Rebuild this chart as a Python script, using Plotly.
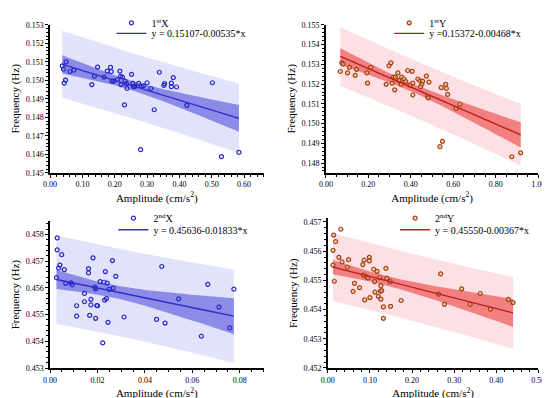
import numpy as np
import plotly.graph_objects as go

# ---------------- data ----------------
# Panel 1: 1st mode, X direction
x1 = [0.0377, 0.0417, 0.0497, 0.0477, 0.0437, 0.0616, 0.0735, 0.129, 0.137, 0.147,
      0.167, 0.177, 0.187, 0.189, 0.191, 0.197, 0.209, 0.216, 0.218, 0.220,
      0.224, 0.230, 0.232, 0.236, 0.238, 0.252, 0.256, 0.258, 0.262, 0.274,
      0.280, 0.282, 0.288, 0.300, 0.312, 0.322, 0.338, 0.352, 0.354, 0.375,
      0.375, 0.381, 0.391, 0.423, 0.502, 0.530, 0.584]
y1 = [0.15078, 0.15060, 0.15100, 0.15001, 0.14985, 0.15048, 0.15055, 0.14977, 0.15022, 0.15072,
      0.15017, 0.15050, 0.15070, 0.15047, 0.14996, 0.14996, 0.15004, 0.15050, 0.15022, 0.14977,
      0.15018, 0.14867, 0.14996, 0.14982, 0.14956, 0.15032, 0.14984, 0.14966, 0.14966, 0.14984,
      0.14625, 0.14968, 0.14970, 0.14987, 0.14956, 0.14841, 0.15044, 0.14973, 0.14982, 0.14985,
      0.14966, 0.15015, 0.14964, 0.14865, 0.14987, 0.14587, 0.14610]

# Panel 2: 1st mode, Y direction
x2 = [0.068, 0.0745, 0.0806, 0.102, 0.111, 0.138, 0.144, 0.193, 0.196, 0.211,
      0.284, 0.297, 0.306, 0.312, 0.318, 0.324, 0.327, 0.339, 0.345, 0.354,
      0.357, 0.367, 0.376, 0.385, 0.397, 0.406, 0.409, 0.409, 0.433, 0.443,
      0.446, 0.452, 0.455, 0.473, 0.479, 0.482, 0.485, 0.537, 0.543, 0.549,
      0.564, 0.567, 0.573, 0.613, 0.631, 0.875, 0.917]
y2 = [0.15264, 0.15308, 0.15301, 0.15257, 0.15285, 0.15244, 0.15275, 0.15257, 0.15205, 0.15285,
      0.15199, 0.15293, 0.15308, 0.15205, 0.15236, 0.15171, 0.15236, 0.15257, 0.15218, 0.15200,
      0.15236, 0.15226, 0.15213, 0.15269, 0.15194, 0.15265, 0.15205, 0.15145, 0.15226, 0.15217,
      0.15187, 0.15200, 0.15215, 0.15241, 0.15138, 0.15130, 0.15210, 0.14883, 0.15182, 0.14910,
      0.15199, 0.15178, 0.15148, 0.15077, 0.15098, 0.14832, 0.14852]

# Panel 3: 2nd mode, X direction
x3 = [0.0027, 0.0030, 0.0030, 0.0036, 0.0041, 0.0049, 0.0060, 0.0066, 0.0088, 0.0093,
      0.0112, 0.0112, 0.0145, 0.0145, 0.0162, 0.0162, 0.0167, 0.0172, 0.0172, 0.0181,
      0.0189, 0.0192, 0.0192, 0.0197, 0.0200, 0.0211, 0.0222, 0.0227, 0.0230, 0.0233,
      0.0238, 0.0241, 0.0244, 0.0249, 0.0263, 0.0266, 0.0277, 0.0312, 0.0449, 0.0471,
      0.0485, 0.0542, 0.0638, 0.0665, 0.0712, 0.0758, 0.0775]
y3 = [0.45638, 0.45787, 0.45742, 0.45674, 0.45685, 0.45724, 0.45668, 0.45617, 0.45619, 0.45611,
      0.45533, 0.45494, 0.45579, 0.45548, 0.45672, 0.45656, 0.45497, 0.45557, 0.45536, 0.45712,
      0.45603, 0.45596, 0.45486, 0.45534, 0.45533, 0.45623, 0.45394, 0.45621, 0.45554, 0.45661,
      0.45560, 0.45618, 0.45471, 0.45594, 0.45702, 0.45599, 0.45643, 0.45491, 0.45482, 0.45680,
      0.45468, 0.45559, 0.45419, 0.45613, 0.45528, 0.45450, 0.45595]

# Panel 4: 2nd mode, Y direction
x4 = [0.0123, 0.0123, 0.0138, 0.0154, 0.0185, 0.0308, 0.0262, 0.0338, 0.0462, 0.0492,
      0.060, 0.0631, 0.0754, 0.0831, 0.0846, 0.0862, 0.0877, 0.0923, 0.0954, 0.0985,
      0.0985, 0.100, 0.109, 0.111, 0.112, 0.117, 0.120, 0.123, 0.125, 0.126,
      0.126, 0.128, 0.132, 0.132, 0.138, 0.140, 0.148, 0.149, 0.174, 0.263,
      0.268, 0.277, 0.318, 0.338, 0.362, 0.386, 0.429, 0.440]
y4 = [0.45552, 0.45603, 0.45655, 0.45497, 0.45633, 0.45675, 0.45579, 0.45563, 0.45545, 0.45571,
      0.45462, 0.45490, 0.45475, 0.45554, 0.45518, 0.45569, 0.45433, 0.45512, 0.45508, 0.45579,
      0.45567, 0.45441, 0.45538, 0.45496, 0.45460, 0.45531, 0.45445, 0.45509, 0.45463, 0.45482,
      0.45436, 0.45465, 0.45409, 0.45370, 0.45541, 0.45507, 0.45496, 0.45411, 0.45431, 0.45453,
      0.45522, 0.45418, 0.45471, 0.45418, 0.45455, 0.45401, 0.45435, 0.45424]

# fitted lines (from legends)
intercepts = [0.15107, 0.15372, 0.45636, 0.45550]
slopes = [-0.00535, -0.00468, -0.01833, -0.00367]
fit_labels = ["y = 0.15107-0.00535*x", "y =0.15372-0.00468*x",
              "y = 0.45636-0.01833*x", "y = 0.45550-0.00367*x"]
series_names = ["1<sup>st</sup>X", "1<sup>st</sup>Y", "2<sup>nd</sup>X", "2<sup>nd</sup>Y"]

FONT = "Liberation Serif"

blue = dict(marker="#2626c8", line="#2e2ec8", light="#e2e2fb", dark="#8c8ce8",
            fill="rgba(255,255,255,0)")
red = dict(marker="#a0401a", line="#b81e1e", light="#fde0e4", dark="#f28080",
           fill="rgba(255,190,110,0.55)")
styles = [blue, red, blue, red]


def bands(x, y, a, b, t=2.014):
    x = np.asarray(x); y = np.asarray(y)
    n = len(x)
    r = y - (a + b * x)
    s = np.sqrt((r ** 2).sum() / (n - 2))
    xm = x.mean()
    sxx = ((x - xm) ** 2).sum()
    xg = np.linspace(x.min(), x.max(), 120)
    yg = a + b * xg
    c = t * s * np.sqrt(1 / n + (xg - xm) ** 2 / sxx)
    p = t * s * np.sqrt(1 + 1 / n + (xg - xm) ** 2 / sxx)
    return xg, yg, c, p


def lname(j):
    return "legend" if j == 1 else "legend%d" % j


xs = [x1, x2, x3, x4]
ys = [y1, y2, y3, y4]

fig = go.Figure()
for i in range(4):
    k = "" if i == 0 else str(i + 1)
    xa, ya = "x" + k, "y" + k
    st = styles[i]
    xg, yg, c, p = bands(xs[i], ys[i], intercepts[i], slopes[i])
    # prediction band
    fig.add_trace(go.Scatter(x=xg, y=yg + p, mode="lines", line=dict(width=0),
                             xaxis=xa, yaxis=ya, showlegend=False, hoverinfo="skip"))
    fig.add_trace(go.Scatter(x=xg, y=yg - p, mode="lines", line=dict(width=0),
                             fill="tonexty", fillcolor=st["light"],
                             xaxis=xa, yaxis=ya, showlegend=False, hoverinfo="skip"))
    # confidence band
    fig.add_trace(go.Scatter(x=xg, y=yg + c, mode="lines", line=dict(width=0),
                             xaxis=xa, yaxis=ya, showlegend=False, hoverinfo="skip"))
    fig.add_trace(go.Scatter(x=xg, y=yg - c, mode="lines", line=dict(width=0),
                             fill="tonexty", fillcolor=st["dark"],
                             xaxis=xa, yaxis=ya, showlegend=False, hoverinfo="skip"))
    # points
    fig.add_trace(go.Scatter(x=xs[i], y=ys[i], mode="markers", name=series_names[i],
                             marker=dict(symbol="circle", size=4, color=st["fill"],
                                         line=dict(color=st["marker"], width=1.2)),
                             xaxis=xa, yaxis=ya, legend=lname(2 * i + 1)))
    # fit line
    fig.add_trace(go.Scatter(x=xg, y=yg, mode="lines", name=fit_labels[i],
                             line=dict(color=st["line"], width=1.4),
                             xaxis=xa, yaxis=ya, legend=lname(2 * i + 2)))

# layout: domains in paper coordinates (pixel positions measured on reference)
W, H = 550, 398
xdom = [(36, 255), (319, 537), (36, 255), (321, 537)]
ydom = [(7, 161), (7, 161), (211, 364), (208, 364)]
xr = [(0, 0.66), (0, 1.0), (0, 0.09), (0, 0.5)]
yr = [(0.14499, 0.15301), (0.1475, 0.15501), (0.45299, 0.4585), (0.45199, 0.45713)]
xdt = [0.1, 0.2, 0.02, 0.1]
# legend left edge (px) and row anchor (px) per panel
legx = [99, 384, 101, 390]
legy = [(5, 16), (5, 16), (208, 220), (208, 220)]

axis_common = dict(showline=True, linecolor="black", linewidth=1.5, ticks="outside",
                   ticklen=3, tickwidth=1, tickcolor="black", showgrid=False,
                   zeroline=False, mirror=False, automargin=True,
                   tickfont=dict(family=FONT, size=8, color="black"),
                   minor=dict(ticks="outside", ticklen=2, tickcolor="black", showgrid=False))

layout = dict(width=W, height=H, margin=dict(l=0, r=0, t=0, b=0),
              template="none",
              paper_bgcolor="white", plot_bgcolor="white",
              font=dict(family=FONT, color="black"))
for i in range(4):
    k = "" if i == 0 else str(i + 1)
    layout["xaxis" + k] = dict(axis_common,
                               domain=[xdom[i][0] / W, xdom[i][1] / W],
                               anchor="y" + k, range=list(xr[i]), dtick=xdt[i], tick0=0,
                               tickformat=".2f",
                               title=dict(text="Amplitude (cm/s<sup>2</sup>)",
                                          font=dict(family=FONT, size=11, color="black"),
                                          standoff=6))
    layout["yaxis" + k] = dict(axis_common,
                               domain=[1 - ydom[i][1] / H, 1 - ydom[i][0] / H],
                               anchor="x" + k, range=list(yr[i]), dtick=0.001,
                               tickformat=".3f",
                               title=dict(text="Frequency (Hz)",
                                          font=dict(family=FONT, size=11, color="black"),
                                          standoff=4))
    for r in range(2):
        layout[lname(2 * i + 1 + r)] = dict(x=legx[i] / W, y=1 - legy[i][r] / H,
                                             xanchor="left", yanchor="middle",
                                             bgcolor="rgba(0,0,0,0)", borderwidth=0,
                                             font=dict(family=FONT, size=10, color="black"),
                                             itemwidth=30)

fig.update_layout(**layout)
fig.write_html("out.html")
